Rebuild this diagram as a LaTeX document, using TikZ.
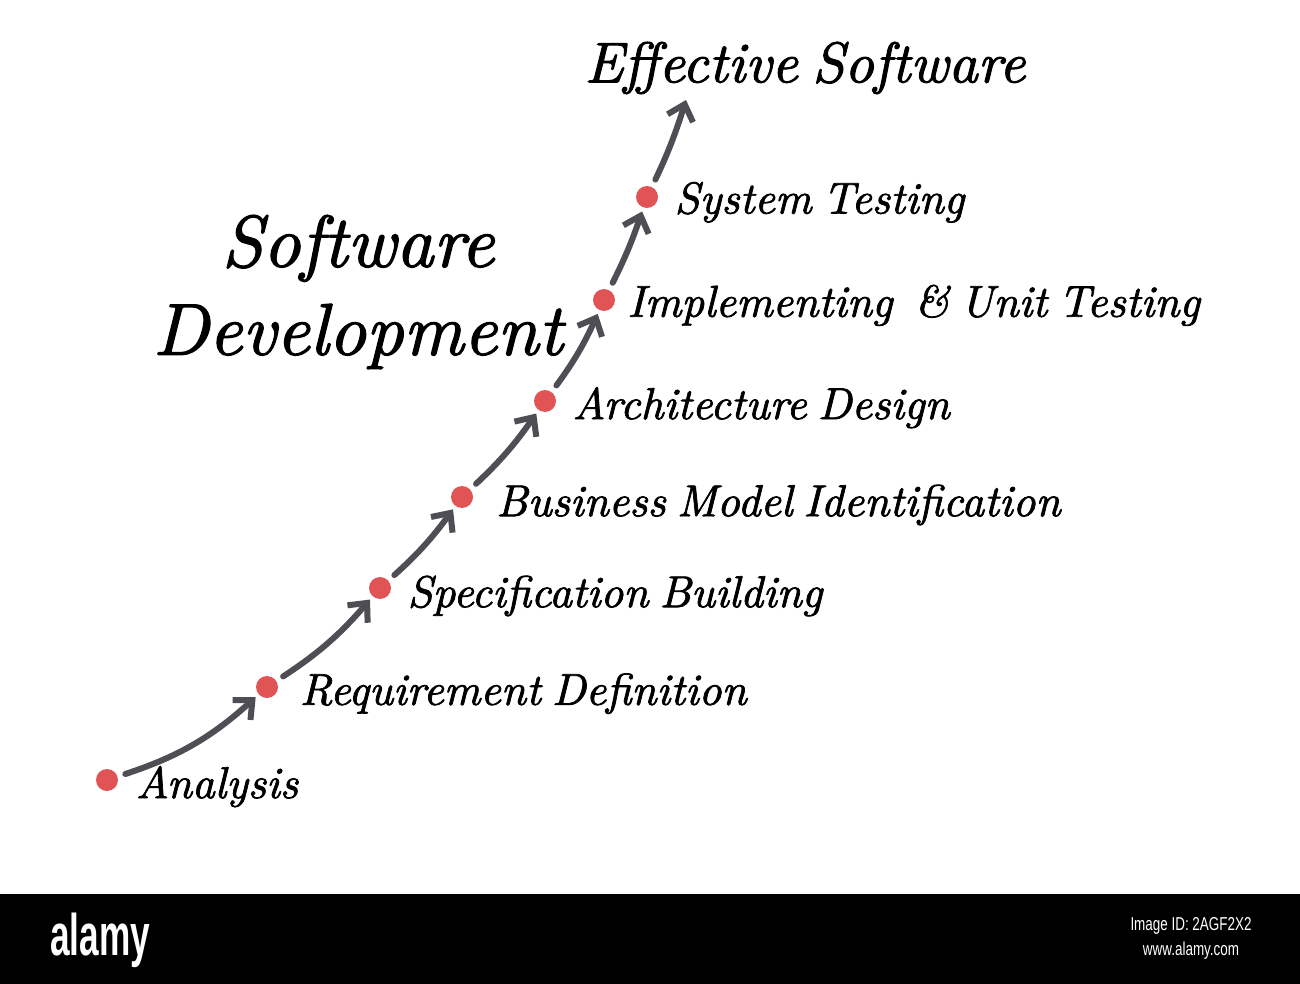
\documentclass[tikz,border=0pt]{standalone}
\usepackage{fontspec}
\newfontfamily\barfont{Liberation Sans}
\newfontfamily\handfont{lmroman10-italic.otf}[FakeBold=1.6, WordSpace=0.7]
\usetikzlibrary{
  positioning,
  arrows.meta}
\definecolor{dotcolor}{RGB}{224,84,86}
\definecolor{flowcolor}{RGB}{78,78,84}
\tikzset{
  %% dot : a stage of the development
  dot/.style={
    circle,
    fill=dotcolor,
    minimum size=16.5pt,
    inner sep=0pt
  },
  %% stage : the label of a stage
  stage/.style={
    font=\handfont\fontsize{33.5}{38}\selectfont,
    inner sep=0pt
  },
  %% heading : the big titles
  heading/.style={
    font=\handfont\fontsize{43}{50}\selectfont,
    inner sep=0pt
  },
  %% flow : arrow from one stage to the next
  flow/.style={
    flowcolor,
    line width=4.5pt,
    line cap=round,
    -{Straight Barb[length=11pt, width=20pt, line width=4.5pt]},
    shorten <=6pt,
    shorten >=3pt
  },
  %% bartext : text in the bottom band
  bartext/.style={
    white,
    inner sep=0pt
  }
}

\begin{document}
\begin{tikzpicture}
  [x=0.75pt,
  y=-0.75pt,
  node distance=14pt]

  \useasboundingbox (0, 0) rectangle (1300, 984);

  %% Stages
  \node (ana) [dot] at (107, 780) {};
  \node (req) [dot] at (267, 687) {};
  \node (spec) [dot] at (380, 588) {};
  \node (bus) [dot] at (462, 497) {};
  \node (arch) [dot] at (545, 401) {};
  \node (impl) [dot] at (604, 300) {};
  \node (sys) [dot] at (647, 197) {};
  \coordinate (top) at (686, 100);

  %% Labels
  \node (anatext) [stage, right=13pt of ana, yshift=-5pt]{Analysis};
  \node (reqtext) [stage, right=16pt of req, yshift=-5pt]{Requirement Definition};
  \node (spectext) [stage, right=12pt of spec, yshift=-6pt]{Specification Building};
  \node (bustext) [stage, right=17pt of bus, yshift=-6pt]{Business Model Identification};
  \node (archtext) [stage, right=12pt of arch, yshift=-5pt]{Architecture Design};
  \node (impltext) [stage, right=9pt of impl, yshift=-4pt]{Implementing~~\& Unit Testing};
  \node (systext) [stage, right=12pt of sys, yshift=-4pt]{System Testing};

  \node (effective) [heading] at (805, 68) {Effective Software};
  \node (softdev) [heading, align=center,
  font=\handfont\fontsize{55}{66}\selectfont] at (358, 292)
  {Software\\Development};

  %% Connections
  \draw [flow] (ana) to[bend right=12] (req);
  \draw [flow] (req) to[bend right=8] (spec);
  \draw [flow] (spec) to[bend right=6] (bus);
  \draw [flow] (bus) to[bend right=6] (arch);
  \draw [flow] (arch) to[bend right=6] (impl);
  \draw [flow] (impl) to[bend right=4] (sys);
  \draw [flow, shorten >=0pt] (sys) to[bend right=4] (top);

  %% Bottom band
  \fill [black] (0, 894) rectangle (1300, 984);
  \node (alamy) [bartext, font=\barfont\bfseries\fontsize{44}{44}\selectfont,
  xscale=0.6, anchor=west] at (50, 940) {alamy};
  \node (imageid) [bartext, font=\barfont\fontsize{14}{14}\selectfont,
  xscale=0.72] at (1191, 926) {Image ID: 2AGF2X2};
  \node (www) [bartext, font=\barfont\fontsize{14}{14}\selectfont,
  xscale=0.72] at (1191, 951) {www.alamy.com};

\end{tikzpicture}
\end{document}
